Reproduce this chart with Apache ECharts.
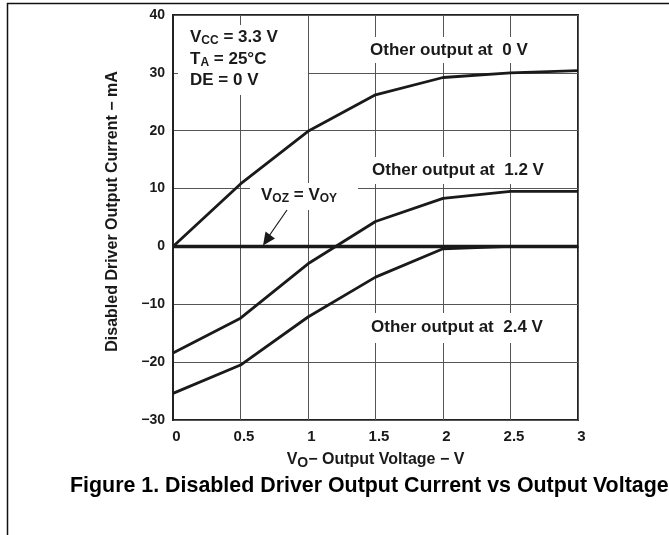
<!DOCTYPE html>
<html>
<head>
<meta charset="utf-8">
<script src="https://cdn.jsdelivr.net/npm/echarts@6/dist/echarts.min.js"></script>
<style>
html,body{margin:0;padding:0;background:#fff;}
#chart{width:669px;height:535px;}
</style>
</head>
<body>
<div id="chart"></div>
<script>
// ---- data ----
var voltages = [0, 0.5, 1, 1.5, 2, 2.5, 3];
var otherAt0V   = [0, 10.8, 19.9, 26.2, 29.2, 30.0, 30.4];
var otherAt1p2V = [-18.4, -12.4, -3.0, 4.3, 8.3, 9.5, 9.5];
var otherAt2p4V = [-25.4, -20.5, -12.2, -5.3, -0.4, 0, 0];
var vozEqVoy    = [0, 0, 0, 0, 0, 0, 0];
var xTickLabels = ['0', '0.5', '1', '1.5', '2', '2.5', '3'];
var yTickValues = [-30, -20, -10, 0, 10, 20, 30, 40];
var yTickLabels = ['\u221230', '\u221220', '\u221210', '0', '10', '20', '30', '40'];

function pairs(xs, ys) { return xs.map(function (x, i) { return [x, ys[i]]; }); }

var FONT = "'Liberation Sans', Arial, Helvetica, sans-serif";
var INK = '#1a1a1a';

var chart = echarts.init(document.getElementById('chart'), null, { renderer: 'canvas' });

function lineSeries(name, ys, w) {
  return {
    name: name, type: 'line', data: pairs(voltages, ys),
    symbol: 'none', z: 5,
    lineStyle: { color: INK, width: w }, itemStyle: { color: INK },
    animation: false
  };
}

function whiteBox(x, y, w, h) {
  return { type: 'rect', z: 1, silent: true, shape: { x: x, y: y, width: w, height: h }, style: { fill: '#fff' } };
}
function label(x, y, txt, rich) {
  return {
    type: 'text', z: 10, x: x, y: y, silent: true,
    style: {
      text: txt, fill: INK, font: 'bold 17px ' + FONT,
      textAlign: 'left', textVerticalAlign: 'middle',
      rich: rich || {}
    }
  };
}
var subRich = {
  m: { fontSize: 17, fontWeight: 'bold', fontFamily: FONT, lineHeight: 20, verticalAlign: 'middle', color: INK },
  s: { fontSize: 12, fontWeight: 'bold', fontFamily: FONT, lineHeight: 11, verticalAlign: 'bottom', color: INK }
};

var option = {
  animation: false,
  backgroundColor: '#fff',
  grid: { left: 173, right: 91, top: 15, bottom: 115, show: true, borderColor: '#222', borderWidth: 2, containLabel: false },
  xAxis: {
    type: 'value', min: 0, max: 3, interval: 0.5,
    axisLine: { show: true, lineStyle: { color: '#222', width: 2 } },
    axisTick: { show: false },
    axisLabel: {
      margin: 9, color: INK, fontSize: 15, fontWeight: 'bold', fontFamily: FONT,
      padding: [0, 0, 0, 7],
      formatter: function (v) { return xTickLabels[Math.round(v / 0.5)]; }
    },
    splitLine: { show: true, lineStyle: { color: '#555', width: 1 } },
    name: '{m|V}{s|O}{m|\u2212 Output Voltage \u2212 V}',
    nameLocation: 'middle', nameGap: 30,
    nameTextStyle: {
      rich: {
        m: { fontSize: 16, fontWeight: 'bold', fontFamily: FONT, lineHeight: 20, verticalAlign: 'middle', color: INK },
        s: { fontSize: 14, fontWeight: 'bold', fontFamily: FONT, lineHeight: 8, verticalAlign: 'bottom', color: INK }
      }
    }
  },
  yAxis: {
    type: 'value', min: -30, max: 40, interval: 10,
    axisLine: { show: true, lineStyle: { color: '#222', width: 2 } },
    axisTick: { show: false },
    axisLabel: {
      margin: 8, color: INK, fontSize: 14, fontWeight: 'bold', fontFamily: FONT,
      formatter: function (v) { return yTickLabels[yTickValues.indexOf(Math.round(v))]; }
    },
    splitLine: { show: true, lineStyle: { color: '#555', width: 1 } }
  },
  series: [
    lineSeries('Other output at 0 V', otherAt0V, 2.8),
    lineSeries('Other output at 1.2 V', otherAt1p2V, 2.8),
    lineSeries('Other output at 2.4 V', otherAt2p4V, 2.8),
    lineSeries('VOZ = VOY', vozEqVoy, 3.4)
  ],
  graphic: [
    // outer frame
    { type: 'rect', z: 0, silent: true, shape: { x: 7.5, y: 3.5, width: 800, height: 800 }, style: { fill: null, stroke: '#111', lineWidth: 1.5 } },
    // white boxes behind annotations
    whiteBox(178, 25, 130, 70),
    whiteBox(364, 37, 170, 26),
    whiteBox(364, 157, 184, 27),
    whiteBox(364, 313, 184, 30),
    whiteBox(250, 183, 108, 27),
    // parameter block
    label(190, 37, '{m|V}{s|CC}{m| = 3.3 V}', subRich),
    label(190, 59, '{m|T}{s|A}{m| = 25\u00B0C}', subRich),
    label(190, 80, 'DE = 0 V'),
    // curve labels
    label(370, 50, 'Other output at  0 V'),
    label(372, 170, 'Other output at  1.2 V'),
    label(371, 327, 'Other output at  2.4 V'),
    label(261, 195, '{m|V}{s|OZ}{m| = V}{s|OY}', {
      m: { fontSize: 17, fontWeight: 'bold', fontFamily: FONT, lineHeight: 20, verticalAlign: 'middle', color: INK },
      s: { fontSize: 12, fontWeight: 'bold', fontFamily: FONT, lineHeight: 10, verticalAlign: 'bottom', color: INK }
    }),
    // arrow
    { type: 'line', z: 10, silent: true, shape: { x1: 287, y1: 210, x2: 269, y2: 236 }, style: { stroke: INK, lineWidth: 1.2 } },
    { type: 'polygon', z: 10, silent: true, shape: { points: [[263, 245.5], [275, 238.5], [265.5, 231.5]] }, style: { fill: INK } },
    // y axis title
    {
      type: 'text', z: 10, x: 113, y: 211.5, rotation: Math.PI / 2, silent: true,
      style: { text: 'Disabled Driver Output Current \u2212 mA', fill: INK, font: 'bold 16px ' + FONT, textAlign: 'center', textVerticalAlign: 'middle' }
    },
    // figure caption
    {
      type: 'text', z: 10, x: 70, y: 486, silent: true,
      style: { text: 'Figure 1. Disabled Driver Output Current vs Output Voltage', fill: '#000', font: 'bold 21.4px ' + FONT, textAlign: 'left', textVerticalAlign: 'middle' }
    }
  ]
};
chart.setOption(option);
</script>
</body>
</html>
